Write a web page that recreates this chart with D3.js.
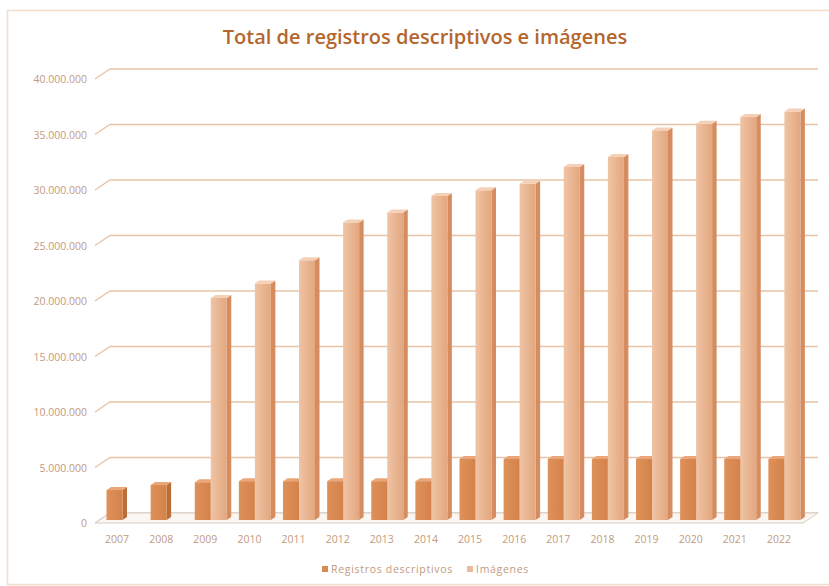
<!DOCTYPE html>
<html>
<head>
<meta charset="utf-8">
<script src="https://cdn.jsdelivr.net/npm/d3@7"></script>
<style>
  body { margin: 0; background: #fff; }
  text { font-family: "Open Sans", "Noto Sans", sans-serif; }
</style>
</head>
<body>
<div id="chart"></div>
<script>
// data
let years = ["2007", "2008", "2009", "2010", "2011", "2012", "2013", "2014",
  "2015", "2016", "2017", "2018", "2019", "2020", "2021", "2022"];
let registros = [2700000, 3150000, 3400000, 3500000, 3500000, 3500000, 3500000, 3500000,
  5500000, 5500000, 5500000, 5500000, 5500000, 5500000, 5500000, 5500000];
let imagenes = [0, 0, 20000000, 21300000, 23400000, 26800000, 27700000, 29200000,
  29700000, 30300000, 31800000, 32700000, 35100000, 35700000, 36300000, 36800000];
let yTicks = [0, 5000000, 10000000, 15000000, 20000000, 25000000, 30000000, 35000000, 40000000];
let seriesNames = ["Registros descriptivos", "Imágenes"];

let width = 829;
let height = 586;

// 3d look offsets
let backDx = 15;
let backDy = -10;
let barW = 16;
let sideW = 4.5;
let topH = 3;

let svg = d3.select("#chart")
  .append("svg")
  .attr("width", width)
  .attr("height", height);

// outer chart border
svg.append("rect")
  .attr("x", 7.5)
  .attr("y", 10.5)
  .attr("width", 830)
  .attr("height", 574)
  .attr("fill", "none")
  .attr("stroke", "#f3dccb")
  .attr("stroke-width", 1.5);

svg.append("text")
  .attr("x", 425)
  .attr("y", 44)
  .attr("text-anchor", "middle")
  .attr("font-size", 20)
  .attr("font-weight", 600)
  .attr("fill", "#b4662e")
  .text("Total de registros descriptivos e imágenes");

let x = d3.scaleBand()
  .domain(years)
  .range([95, 801]);

// front plane scale
let y = d3.scaleLinear()
  .domain([0, 40000000])
  .range([523, 79]);

let fmt = d3.formatLocale({ decimal: ",", thousands: ".", grouping: [3], currency: ["", ""] }).format(",d");

// gridlines on back wall
svg.append("g")
  .selectAll("path")
  .data(yTicks)
  .join("path")
  .attr("d", d => `M95,${y(d)} L${95 + backDx},${y(d) + backDy} L818,${y(d) + backDy}`)
  .attr("fill", "none")
  .attr("stroke", d => d === 0 ? "#d9cdc4" : "#e8c3a6")
  .attr("stroke-width", 1.3);

// floor
svg.append("path")
  .attr("d", `M95,${y(0)} L803,${y(0)} L818,${y(0) + backDy} L${95 + backDx},${y(0) + backDy}Z`)
  .attr("fill", "#fbf6f2")
  .attr("stroke", "#d9cdc4")
  .attr("stroke-width", 1);

// y labels
svg.append("g")
  .selectAll("text")
  .data(yTicks)
  .join("text")
  .attr("x", 87)
  .attr("y", d => y(d) + 4)
  .attr("text-anchor", "end")
  .attr("font-size", 10.5)
  .attr("fill", "#c29a80")
  .text(d => fmt(d));

// x labels
svg.append("g")
  .selectAll("text")
  .data(years)
  .join("text")
  .attr("x", d => x(d) + x.bandwidth() / 2)
  .attr("y", 543)
  .attr("text-anchor", "middle")
  .attr("font-size", 10.5)
  .attr("fill", "#c29a80")
  .text(d => d);

let defs = svg.append("defs");
let gradDark = defs.append("linearGradient").attr("id", "gDark");
gradDark.append("stop").attr("offset", "0%").attr("stop-color", "#de915a");
gradDark.append("stop").attr("offset", "100%").attr("stop-color", "#d4824a");
let gradLight = defs.append("linearGradient").attr("id", "gLight");
gradLight.append("stop").attr("offset", "0%").attr("stop-color", "#efc4a5");
gradLight.append("stop").attr("offset", "100%").attr("stop-color", "#e3a77f");

let styles = [
  { front: "url(#gDark)", side: "#bd6d38", top: "#eaa678" },
  { front: "url(#gLight)", side: "#d58d60", top: "#f4d0b6" }
];

// bars baseline sits a little behind the front edge
let base = 3;
let bars = [];
years.forEach((yr, i) => {
  bars.push({ year: yr, s: 0, v: registros[i] });
  bars.push({ year: yr, s: 1, v: imagenes[i] });
});
bars = bars.filter(d => d.v > 0);

let barG = svg.append("g")
  .selectAll("g")
  .data(bars)
  .join("g");

function bx(d) { return x(d.year) + 11.5 + d.s * barW; }
function btop(d) { return y(d.v) - base; }
function bbot() { return y(0) - base; }

// side face
barG.append("path")
  .attr("d", d => {
    let x1 = bx(d) + barW;
    return `M${x1},${btop(d)} L${x1 + sideW},${btop(d) - topH} L${x1 + sideW},${bbot() - topH} L${x1},${bbot()}Z`;
  })
  .attr("fill", d => styles[d.s].side);

// front face
barG.append("rect")
  .attr("x", d => bx(d))
  .attr("y", d => btop(d))
  .attr("width", barW)
  .attr("height", d => bbot() - btop(d))
  .attr("fill", d => styles[d.s].front);

// top face
barG.append("path")
  .attr("d", d => {
    let x0 = bx(d);
    let t = btop(d);
    return `M${x0},${t} L${x0 + sideW},${t - topH} L${x0 + barW + sideW},${t - topH} L${x0 + barW},${t}Z`;
  })
  .attr("fill", d => styles[d.s].top);

// legend
let legend = svg.append("g");
let legX = [322, 467];
seriesNames.forEach((name, i) => {
  legend.append("rect")
    .attr("x", legX[i])
    .attr("y", 566)
    .attr("width", 6)
    .attr("height", 6)
    .attr("fill", i === 0 ? "#d98a52" : "#ebbb99");
  legend.append("text")
    .attr("x", legX[i] + 9)
    .attr("y", 572.5)
    .attr("font-size", 10.5)
    .attr("letter-spacing", 0.7)
    .attr("fill", "#c29a80")
    .text(name);
});
</script>
</body>
</html>
